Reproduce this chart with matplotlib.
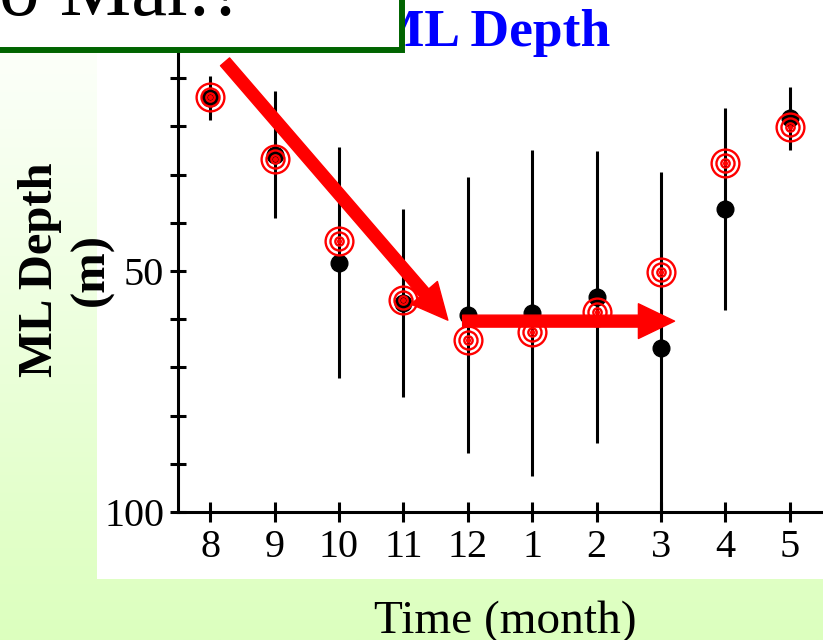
import numpy as np
import matplotlib
matplotlib.use("Agg")
import matplotlib.pyplot as plt
from matplotlib.patches import Rectangle, FancyArrowPatch

# monthly mixed-layer depth (m): observed mean +/- spread, and model
months = ['8', '9', '10', '11', '12', '1', '2', '3', '4', '5']
obs_depth = [14.1, 25.9, 48.3, 56.6, 59.1, 58.7, 55.4, 66.0, 37.1, 18.3]
obs_spread = [4.5, 13.2, 24.0, 19.5, 28.7, 33.8, 30.2, 36.5, 21.0, 6.5]
model_depth = [13.9, 26.8, 43.8, 56.0, 64.3, 62.7, 58.5, 50.2, 27.6, 20.1]
ytick_vals = [10, 20, 30, 40, 50, 60, 70, 80, 90, 100]
ytick_text = ['', '', '', '', '50', '', '', '', '', '100']

W, H = 823, 640
serif = ['Liberation Serif', 'DejaVu Serif']
plt.rcParams['font.family'] = serif

fig = plt.figure(figsize=(W / 100, H / 100), dpi=100)

# slide background: white -> pale green gradient
bg = fig.add_axes([0, 0, 1, 1], zorder=-2)
grad = np.linspace(0, 1, 256)[:, None]
top = np.array([1.0, 1.0, 1.0])
bot = np.array([0xdc, 0xff, 0xbe]) / 255
img = top[None, None, :] * (1 - grad[:, :, None]) + bot[None, None, :] * grad[:, :, None]
bg.imshow(img, aspect='auto', extent=[0, 1, 0, 1])
bg.axis('off')

# white panel behind the plot
fig.patches.append(Rectangle((97 / W, 1 - 579 / H), (W - 97) / W, 579 / H,
                             transform=fig.transFigure, facecolor='white',
                             edgecolor='none', zorder=-1))

ax = fig.add_axes([178 / W, 1 - 512 / H, 644 / W, 482 / H])
ax.patch.set_alpha(0)
x = np.arange(len(months))

ax.errorbar(x, obs_depth, yerr=obs_spread, fmt='o', color='black',
            markersize=12, elinewidth=2.2, capsize=0, zorder=2)
for size, filled in [(20, False), (13, False), (6, False), (2, True)]:
    ax.plot(x, model_depth, 'o', markersize=size, markeredgewidth=1.7,
            markeredgecolor='red', markerfacecolor='red' if filled else 'none',
            zorder=3)

ax.set_xlim(-0.5, 9.5)
ax.set_ylim(100, 0)
ax.set_xticks(x)
ax.set_xticklabels(months)
ax.set_yticks(ytick_vals)
ax.set_yticklabels(ytick_text)
for s in ['top', 'right']:
    ax.spines[s].set_visible(False)
for s in ['left', 'bottom']:
    ax.spines[s].set_linewidth(2.2)
ax.tick_params(axis='both', direction='inout', width=2.2, labelsize=29)
ax.tick_params(axis='y', length=12, pad=4)
ax.tick_params(axis='x', length=15, pad=5)

# red trend arrows
arrow_kw = dict(arrowstyle='simple,head_width=25,head_length=26,tail_width=8.6',
                color='red', shrinkA=0, shrinkB=0, mutation_scale=1,
                zorder=5, clip_on=False)
ax.add_patch(FancyArrowPatch((0.23, 6.6), (3.69, 60.2), **arrow_kw))
ax.add_patch(FancyArrowPatch((3.92, 60.4), (7.21, 60.4), **arrow_kw))

# labels
fig.text(66 / W, 1 - 270 / H, 'ML Depth\n(m)', rotation=90, ha='center',
         va='center', fontsize=35, fontweight='bold', linespacing=1.2)
fig.text(505 / W, 1 - 633 / H, 'Time (month)', ha='center', va='baseline',
         fontsize=34)
fig.text(610 / W, 1 - 46 / H, 'ML Depth', ha='right', va='baseline',
         fontsize=38.5, fontweight='bold', color='blue', zorder=4)

# question box at top-left (partly off the slide)
fig.patches.append(Rectangle((-20 / W, 1 - 50 / H), 422 / W, 80 / H,
                             transform=fig.transFigure, facecolor='white',
                             edgecolor='#006400', linewidth=4.3, zorder=6))
fig.text(245 / W, 1 - 15 / H, 'Dec. to Mar.?', ha='right', va='baseline',
         fontsize=58, zorder=7)

fig.savefig('out.png', dpi=100)
